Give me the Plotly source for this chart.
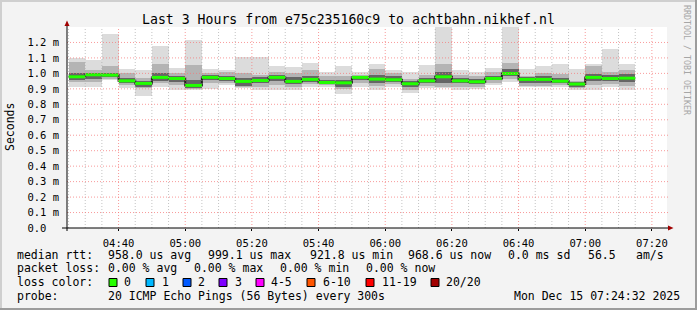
import plotly.graph_objects as go
import pandas as pd

# ---------------- data ----------------
first_slot = "2025-12-15 04:25:00"
step_minutes = 5
# per 5-minute slot, latency in ms
median = [0.978, 0.991, 0.989, 0.952, 0.935, 0.974, 0.967, 0.922, 0.974, 0.967,
          0.948, 0.954, 0.974, 0.948, 0.961, 0.941, 0.939, 0.974, 0.963, 0.959,
          0.933, 0.952, 0.978, 0.952, 0.946, 0.967, 0.999, 0.961, 0.961, 0.950,
          0.931, 0.974, 0.967, 0.969]
ping_max = [1.099, 1.088, 1.256, 1.030, 1.023, 1.178, 1.038, 1.217, 1.030, 1.023,
            1.103, 1.103, 1.049, 1.043, 1.068, 1.008, 1.049, 1.008, 1.062, 1.023,
            1.007, 1.056, 1.400, 1.023, 1.012, 1.038, 1.400, 1.030, 1.049, 1.062,
            1.030, 1.062, 1.159, 1.062]
ping_min = [0.915, 0.915, 0.955, 0.905, 0.851, 0.915, 0.894, 0.890, 0.896, 0.922,
            0.905, 0.890, 0.894, 0.890, 0.915, 0.915, 0.868, 0.915, 0.894, 0.915,
            0.872, 0.905, 0.905, 0.894, 0.898, 0.925, 0.944, 0.910, 0.910, 0.915,
            0.890, 0.894, 0.915, 0.894]
mid_hi = [1.071, 1.023, 1.045, 1.002, 0.969, 1.060, 1.002, 1.056, 1.002, 1.012,
          1.002, 0.990, 1.012, 1.002, 1.023, 0.985, 0.980, 0.990, 1.030, 1.002,
          0.965, 0.990, 1.060, 0.990, 0.985, 1.012, 1.066, 0.985, 1.002, 0.995,
          0.950, 1.045, 1.012, 1.023]
mid_lo = [0.944, 0.945, 0.965, 0.925, 0.905, 0.935, 0.925, 0.900, 0.935, 0.935,
          0.910, 0.915, 0.925, 0.915, 0.930, 0.925, 0.900, 0.935, 0.920, 0.930,
          0.895, 0.920, 0.915, 0.915, 0.915, 0.940, 0.965, 0.920, 0.920, 0.925,
          0.905, 0.925, 0.930, 0.920]
core_hi = [1.000, 1.005, 1.005, 0.970, 0.950, 1.000, 0.980, 0.960, 0.990, 0.985,
           0.970, 0.975, 0.990, 0.975, 0.985, 0.960, 0.960, 0.985, 0.990, 0.980,
           0.950, 0.970, 1.010, 0.970, 0.965, 0.985, 1.030, 0.975, 0.980, 0.970,
           0.945, 0.995, 0.990, 0.995]
core_lo = [0.955, 0.965, 0.975, 0.935, 0.915, 0.950, 0.945, 0.905, 0.955, 0.950,
           0.920, 0.935, 0.950, 0.930, 0.945, 0.930, 0.915, 0.955, 0.940, 0.945,
           0.910, 0.935, 0.940, 0.935, 0.930, 0.955, 0.985, 0.940, 0.940, 0.935,
           0.915, 0.950, 0.950, 0.945]

y_tick_vals = [0.0, 0.1, 0.2, 0.3, 0.4, 0.5, 0.6, 0.7, 0.8, 0.9, 1.0, 1.1, 1.2]
y_tick_text = ["0.0\u00a0\u00a0", "0.1 m", "0.2 m", "0.3 m", "0.4 m", "0.5 m", "0.6 m",
               "0.7 m", "0.8 m", "0.9 m", "1.0 m", "1.1 m", "1.2 m"]
x_tick_text = ["04:40", "05:00", "05:20", "05:40", "06:00", "06:20", "06:40", "07:00", "07:20"]
range_start = "2025-12-15 04:24:32"
range_end = "2025-12-15 07:24:32"

title_text = "Last 3 Hours from e75c235160c9 to achtbahn.nikhef.nl"
legend_rows = [
    [("median rtt:", 16), ("958.0 us avg", 107), ("999.1 us max", 207), ("921.8 us min", 309),
     ("968.6 us now", 407), ("0.0 ms sd", 507), ("56.5", 587), ("am/s", 635)],
    [("packet loss:", 16), ("0.00 % avg", 107), ("0.00 % max", 193), ("0.00 % min", 279),
     ("0.00 % now", 365)],
    [("loss color:", 16)],
    [("probe:", 16), ("20 ICMP Echo Pings (56 Bytes) every 300s", 107),
     ("Mon Dec 15 07:24:32 2025", 513)],
]
loss_labels = ["0", "1", "2", "3", "4-5", "6-10", "11-19", "20/20"]
loss_colors = ["#26ff00", "#00b8ff", "#0059ff", "#7e00ff", "#ff00ff", "#ff5500", "#ff0000", "#a10000"]
loss_box_x = [109, 146, 183, 219, 256, 307, 366, 431]
loss_label_x = [123, 161, 197, 234, 270, 322, 381, 445]

# ---------------- geometry helpers ----------------
W, H = 697, 310
PL, PR, PT, PB = 67, 667, 27, 228
FONT = "DejaVu Sans Mono"


def fx(px):
    return (px - PL) / (PR - PL)


def fy(py):
    return (PB - py) / (PB - PT)


n = len(median)
starts = pd.date_range(first_slot, periods=n, freq=f"{step_minutes}min")
step = pd.Timedelta(minutes=step_minutes)
centers = starts + step / 2
width_ms = step_minutes * 60 * 1000

fig = go.Figure()


def band(lo, hi, color):
    fig.add_trace(go.Bar(
        x=centers, base=lo, y=[h - l for h, l in zip(hi, lo)], width=[width_ms] * n,
        marker=dict(color=color, line=dict(width=0)), hoverinfo="skip", showlegend=False))


band(ping_min, ping_max, "#dcdcdc")
band(mid_lo, mid_hi, "#b4b4b4")
band(core_lo, core_hi, "#656565")

# dark step connector underneath
step_x = list(starts) + [starts[-1] + step]
step_y = list(median) + [median[-1]]
fig.add_trace(go.Scatter(x=step_x, y=step_y, mode="lines", line=dict(shape="hv", color="#202020", width=2),
                         hoverinfo="skip", showlegend=False))
# green median segments
gx, gy = [], []
for s, m in zip(starts, median):
    gx += [s, s + step, None]
    gy += [m, m, None]
fig.add_trace(go.Scatter(x=gx, y=gy, mode="lines", line=dict(color="#22ff00", width=3),
                         hoverinfo="skip", showlegend=False))

shapes = []
# grid (drawn above the smoke like rrdtool)
t = pd.Timestamp(first_slot)
t_end = pd.Timestamp(range_end)
while t <= t_end:
    major = t.minute % 20 == 0
    shapes.append(dict(type="line", xref="x", yref="paper", x0=t, x1=t, y0=0, y1=1, layer="above",
                       line=dict(color="rgba(245,120,120,0.75)" if major else "rgba(170,170,170,0.7)",
                                 width=1, dash="1px,2px")))
    t += step
for v in y_tick_vals[1:]:
    shapes.append(dict(type="line", xref="paper", yref="y", x0=0, x1=fx(668), y0=v, y1=v, layer="above",
                       line=dict(color="rgba(245,120,120,0.75)", width=1, dash="1px,2px")))
# axes lines and arrows
shapes.append(dict(type="line", xref="paper", yref="paper", x0=fx(62), x1=fx(668), y0=0, y1=0,
                   layer="above", line=dict(color="#000", width=1)))
shapes.append(dict(type="line", xref="paper", yref="paper", x0=0, x1=0, y0=fy(231), y1=fy(25),
                   layer="above", line=dict(color="#000", width=1)))
shapes.append(dict(type="path", xref="paper", yref="paper",
                   path=f"M {fx(668)} {fy(225.5)} L {fx(673.5)} {fy(228)} L {fx(668)} {fy(230.5)} Z",
                   fillcolor="#a00000", line=dict(width=0), layer="above"))
shapes.append(dict(type="path", xref="paper", yref="paper",
                   path=f"M {fx(64.5)} {fy(26)} L {fx(67)} {fy(20.5)} L {fx(69.5)} {fy(26)} Z",
                   fillcolor="#a00000", line=dict(width=0), layer="above"))
# frame
shapes += [
    dict(type="rect", xref="paper", yref="paper", x0=fx(0), x1=fx(W), y0=fy(0), y1=fy(2),
         fillcolor="#cfcfcf", line=dict(width=0), layer="above"),
    dict(type="rect", xref="paper", yref="paper", x0=fx(0), x1=fx(2), y0=fy(0), y1=fy(H),
         fillcolor="#cfcfcf", line=dict(width=0), layer="above"),
    dict(type="rect", xref="paper", yref="paper", x0=fx(0), x1=fx(W), y0=fy(H - 2), y1=fy(H),
         fillcolor="#9c9c9c", line=dict(width=0), layer="above"),
    dict(type="rect", xref="paper", yref="paper", x0=fx(W - 2), x1=fx(W), y0=fy(0), y1=fy(H),
         fillcolor="#9c9c9c", line=dict(width=0), layer="above"),
]
# loss color boxes
for bx, col in zip(loss_box_x, loss_colors):
    shapes.append(dict(type="rect", xref="paper", yref="paper", x0=fx(bx), x1=fx(bx + 8),
                       y0=fy(278.5), y1=fy(286.5), fillcolor=col, line=dict(color="#000", width=1)))

annotations = []


def text(s, x, y, size=11.5, color="#000", xanchor="left", angle=0):
    annotations.append(dict(text=s, x=fx(x), y=fy(y), xref="paper", yref="paper", showarrow=False,
                            xanchor=xanchor, yanchor="middle", textangle=angle, borderpad=0,
                            font=dict(family=FONT, size=size, color=color)))


text(title_text, 348, 19.5, size=13.2, xanchor="center")
row_y = [254.7, 268.3, 282.3, 296]
for row, yy in zip(legend_rows, row_y):
    for s, xx in row:
        text(s, xx, yy)
for lab, xx in zip(loss_labels, loss_label_x):
    text(lab, xx, row_y[2])
text("Seconds", 10, 127, size=11.5, xanchor="center", angle=-90)
text("RRDTOOL / TOBI OETIKER", 687, 60, size=8.3, color="#a6a6a6", xanchor="center", angle=90)

tick_times = pd.date_range("2025-12-15 04:40", periods=len(x_tick_text), freq="20min")

fig.update_layout(
    width=W, height=H,
    margin=dict(l=PL, r=W - PR, t=PT, b=H - PB, pad=0),
    paper_bgcolor="#f3f3f3", plot_bgcolor="#ffffff",
    barmode="overlay", bargap=0,
    showlegend=False,
    font=dict(family=FONT, size=10.5, color="#000"),
    shapes=shapes, annotations=annotations,
    xaxis=dict(type="date", range=[range_start, range_end], tickvals=tick_times, ticktext=x_tick_text,
               showgrid=False, zeroline=False, showline=False, ticks="outside", ticklen=2,
               tickcolor="#000", tickfont=dict(family=FONT, size=10.5, color="#000"),
               ticklabelstandoff=3, fixedrange=True),
    yaxis=dict(range=[0, 1.3], tickvals=y_tick_vals, ticktext=y_tick_text, showgrid=False,
               zeroline=False, showline=False, ticks="", tickfont=dict(family=FONT, size=10.5, color="#000"),
               ticklabelstandoff=7, fixedrange=True),
)

fig.write_html("out.html")
